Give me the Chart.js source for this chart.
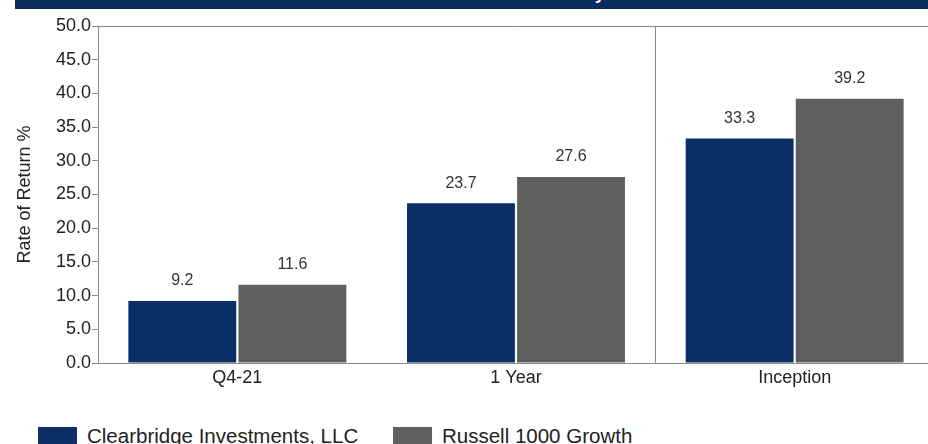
<!DOCTYPE html>
<html>
<head>
<meta charset="utf-8">
<script src="https://cdn.jsdelivr.net/npm/chart.js@4"></script>
<style>
  html, body { margin: 0; padding: 0; background: #fff; overflow: hidden; }
  body { width: 928px; height: 444px; position: relative; font-family: "Liberation Sans", Arial, sans-serif; }
  .banner { position: absolute; left: 15px; top: 0; width: 913px; height: 9px; background: #0b2d5e; overflow: hidden; }
  .banner span { position: absolute; left: 0; right: 0; top: -15px; text-align: center; color: #fff; font-weight: bold; font-size: 17px; line-height: 20px; padding-left: 80px; }
  .wrap { position: absolute; left: 0; top: 0; width: 940px; height: 400px; }
  .legend { position: absolute; top: 426px; left: 0; width: 928px; font-size: 20.5px; line-height: 20px; color: #222; }
  .legend .item { position: absolute; display: flex; align-items: flex-start; }
  .legend .box { width: 39px; height: 18px; margin-right: 10px; margin-top: 1px; }
</style>
</head>
<body>
<div class="banner"><span>Performance Summary</span></div>
<div class="wrap"><canvas id="chart"></canvas></div>
<div class="legend" id="legend"></div>
<script>
// periods and returns
const categories = ["Q4-21", "1 Year", "Inception"];
const seriesNames = ["Clearbridge Investments, LLC", "Russell 1000 Growth"];
const clearbridge = [9.2, 23.7, 33.3];
const russell = [11.6, 27.6, 39.2];
const yTicks = [0, 5, 10, 15, 20, 25, 30, 35, 40, 45, 50];

const colors = ["#0a2f66", "#5e605e"];

// value labels above each bar
const barLabels = {
  id: "barLabels",
  afterDatasetsDraw(chart) {
    const ctx = chart.ctx;
    ctx.save();
    ctx.font = "16px 'Liberation Sans', Arial, sans-serif";
    ctx.fillStyle = "#333";
    ctx.textAlign = "center";
    ctx.textBaseline = "bottom";
    chart.data.datasets.forEach((ds, i) => {
      chart.getDatasetMeta(i).data.forEach((bar, j) => {
        ctx.fillText(ds.data[j].toFixed(1), bar.x, bar.y - 12);
      });
    });
    ctx.restore();
  }
};

new Chart(document.getElementById("chart"), {
  type: "bar",
  data: {
    labels: categories,
    datasets: [
      { label: seriesNames[0], data: clearbridge, backgroundColor: colors[0] },
      { label: seriesNames[1], data: russell, backgroundColor: colors[1] },
    ],
  },
  options: {
    responsive: true,
    maintainAspectRatio: false,
    animation: false,
    categoryPercentage: 0.79,
    barPercentage: 0.98,
    layout: { padding: { top: 26, right: 6, left: 0, bottom: 0 } },
    plugins: {
      legend: { display: false },
      tooltip: { enabled: false },
    },
    scales: {
      x: {
        grid: {
          offset: true,
          drawTicks: false,
          color: (c) => (c.index === 2 ? "#8a8a8a" : "rgba(0,0,0,0)"),
        },
        border: { color: "#8a8a8a", width: 1 },
        ticks: {
          color: "#222",
          padding: 4,
          font: { family: "'Liberation Sans', Arial, sans-serif", size: 18 },
        },
        afterFit: (s) => { s.height = 37; },
      },
      y: {
        min: 0,
        max: 50,
        afterBuildTicks: (s) => { s.ticks = yTicks.map((v) => ({ value: v })); },
        grid: {
          tickLength: 6,
          tickColor: "#8a8a8a",
          color: (c) => (c.tick && c.tick.value === 50 ? "#8a8a8a" : "rgba(0,0,0,0)"),
        },
        border: { color: "#8a8a8a", width: 1 },
        ticks: {
          color: "#222",
          padding: 1,
          callback: (v) => Number(v).toFixed(1),
          font: { family: "'Liberation Sans', Arial, sans-serif", size: 18 },
        },
        title: {
          display: true,
          text: "Rate of Return %",
          color: "#222",
          padding: { top: 14, bottom: 0 },
          font: { family: "'Liberation Sans', Arial, sans-serif", size: 18 },
        },
        afterFit: (s) => { s.width = 98; },
      },
    },
  },
  plugins: [barLabels],
});

// legend below the chart
const legendEl = document.getElementById("legend");
const legendX = [38, 393];
seriesNames.forEach((name, i) => {
  const item = document.createElement("div");
  item.className = "item";
  item.style.left = legendX[i] + "px";
  item.innerHTML = `<div class="box" style="background:${colors[i]}"></div><span>${name}</span>`;
  legendEl.appendChild(item);
});
</script>
</body>
</html>
